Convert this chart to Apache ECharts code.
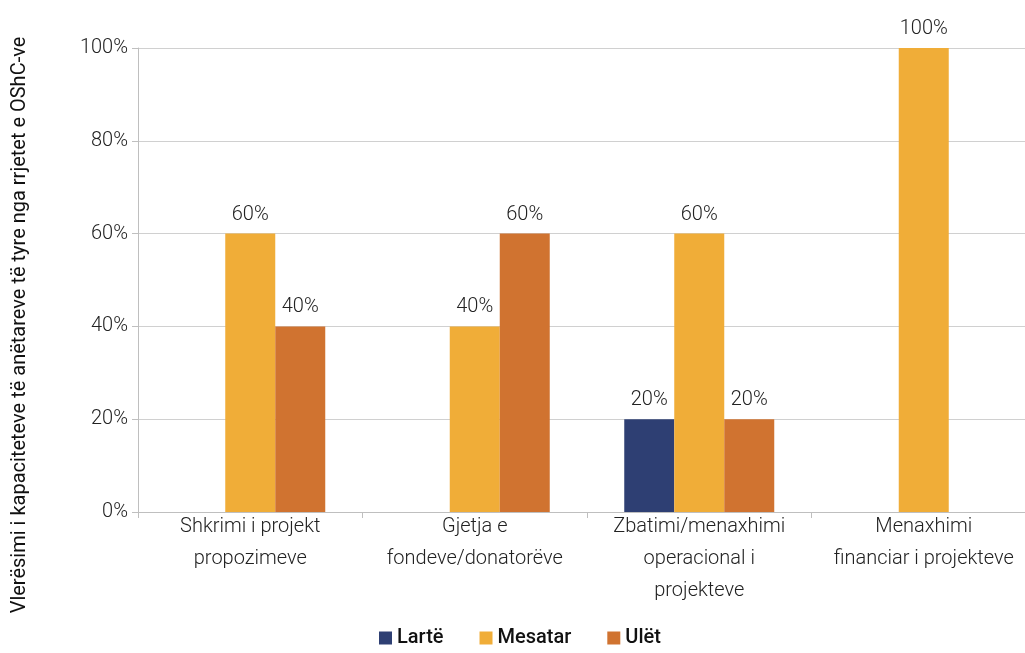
<!DOCTYPE html>
<html>
<head>
<meta charset="utf-8">
<style>
  html, body { margin: 0; padding: 0; background: #ffffff; overflow: hidden; }
  #chart { width: 1036px; height: 653px; }
</style>
<script src="https://cdn.jsdelivr.net/npm/echarts@6/dist/echarts.min.js"></script>
</head>
<body>
<div id="chart"></div>
<script>
  // kategorite
  const categories = [
    'Shkrimi i projekt\npropozimeve',
    'Gjetja e\nfondeve/donatorëve',
    'Zbatimi/menaxhimi\noperacional i\nprojekteve',
    'Menaxhimi\nfinanciar i projekteve'
  ];
  const yTicks = [0, 20, 40, 60, 80, 100];
  // vlerat ne %, null = 0 (pa shtylle)
  const larte = [null, null, 20, null];
  const mesatar = [60, 40, 60, 100];
  const ulet = [40, 60, 20, null];
  const yTitle = 'Vlerësimi i kapaciteteve të anëtareve të tyre nga rrjetet e OShC-ve';

  const font = 'Roboto';
  const lbl = {
    show: true,
    position: 'top',
    distance: 9,
    formatter: '{c}%',
    color: '#222',
    fontFamily: font,
    fontWeight: 300,
    fontSize: 20
  };

  let myChart = echarts.init(document.getElementById('chart'));
  let option = {
    animation: false,
    textStyle: { fontFamily: font },
    grid: { left: 138, right: 0, top: 48, bottom: 141 },
    graphic: [{
      type: 'text',
      x: 20,
      y: 325,
      rotation: Math.PI / 2,
      style: {
        text: yTitle,
        align: 'center',
        verticalAlign: 'middle',
        fill: '#111',
        font: '20px Roboto'
      }
    }],
    legend: {
      bottom: 0,
      left: 374,
      itemWidth: 13,
      itemHeight: 13,
      itemGap: 36,
      icon: 'rect',
      textStyle: { fontFamily: font, fontSize: 20, fontWeight: 500, color: '#111' },
      data: ['Lartë', 'Mesatar', 'Ulët']
    },
    xAxis: {
      type: 'category',
      data: categories,
      axisLine: { lineStyle: { color: '#bfbfbf' } },
      axisTick: { show: true, length: 6, lineStyle: { color: '#bfbfbf' } },
      axisLabel: {
        interval: 0,
        margin: -1,
        color: '#222',
        fontFamily: font,
        fontWeight: 300,
        fontSize: 20,
        lineHeight: 32
      }
    },
    yAxis: {
      type: 'value',
      min: yTicks[0],
      max: yTicks[yTicks.length - 1],
      interval: 20,
      axisLine: { show: true, lineStyle: { color: '#bfbfbf' } },
      axisTick: { show: true, length: 6, lineStyle: { color: '#bfbfbf' } },
      splitLine: { lineStyle: { color: '#d0d0d0' } },
      axisLabel: {
        formatter: '{value}%',
        margin: 10,
        color: '#222',
        fontFamily: font,
        fontWeight: 300,
        fontSize: 20
      }
    },
    series: [
      { name: 'Lartë', type: 'bar', data: larte, barWidth: 50, barGap: '0%',
        itemStyle: { color: '#2E3F73' }, label: lbl },
      { name: 'Mesatar', type: 'bar', data: mesatar, barWidth: 50, barGap: '0%',
        itemStyle: { color: '#F0AD38' }, label: lbl },
      { name: 'Ulët', type: 'bar', data: ulet, barWidth: 50, barGap: '0%',
        itemStyle: { color: '#D07330' }, label: lbl }
    ]
  };
  myChart.setOption(option);
</script>
</body>
</html>
